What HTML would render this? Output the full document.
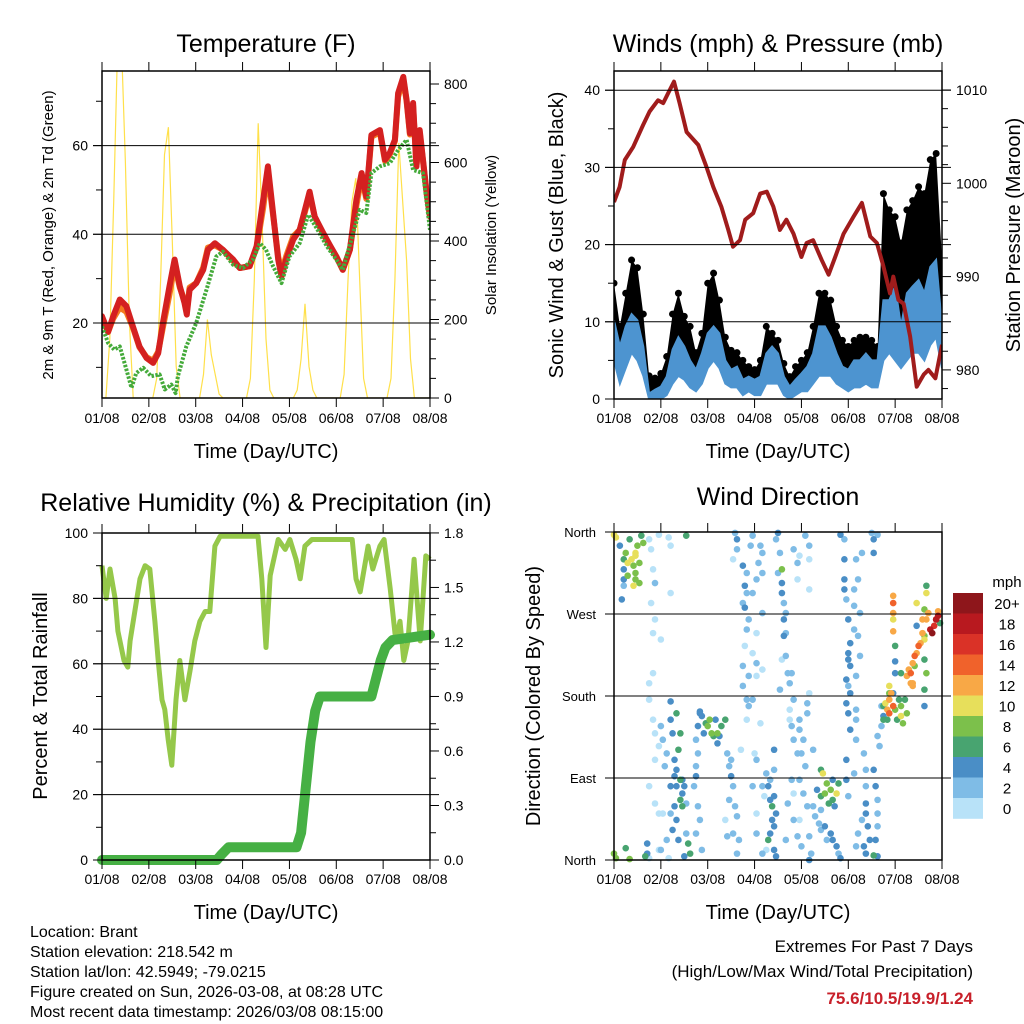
<!DOCTYPE html>
<html><head><meta charset="utf-8"><style>
html,body{margin:0;padding:0;background:#fff;}
svg{display:block;font-family:"Liberation Sans",sans-serif;}
</style></head><body>
<svg id="fig" width="1024" height="1024" viewBox="0 0 1024 1024" xmlns="http://www.w3.org/2000/svg">
<rect x="0" y="0" width="1024" height="1024" fill="#fff"/>
<text x="266" y="52" font-size="25" text-anchor="middle">Temperature (F)</text>
<text x="778" y="52" font-size="25" text-anchor="middle">Winds (mph) &amp; Pressure (mb)</text>
<text x="266" y="511" font-size="25" text-anchor="middle">Relative Humidity (%) &amp; Precipitation (in)</text>
<text x="778" y="505" font-size="25" text-anchor="middle">Wind Direction</text>
<text x="266" y="458" font-size="20" text-anchor="middle">Time (Day/UTC)</text>
<text x="778" y="458" font-size="20" text-anchor="middle">Time (Day/UTC)</text>
<text x="266" y="919" font-size="20" text-anchor="middle">Time (Day/UTC)</text>
<text x="778" y="919" font-size="20" text-anchor="middle">Time (Day/UTC)</text>
<text transform="translate(53,235) rotate(-90)" font-size="15" text-anchor="middle">2m &amp; 9m T (Red, Orange) &amp; 2m Td (Green)</text>
<text transform="translate(496,235) rotate(-90)" font-size="15" text-anchor="middle">Solar Insolation (Yellow)</text>
<text transform="translate(563,235) rotate(-90)" font-size="20" text-anchor="middle">Sonic Wind &amp; Gust (Blue, Black)</text>
<text transform="translate(1020,235) rotate(-90)" font-size="20" text-anchor="middle">Station Pressure (Maroon)</text>
<text transform="translate(47,696) rotate(-90)" font-size="20" text-anchor="middle">Percent &amp; Total Rainfall</text>
<text transform="translate(540,696) rotate(-90)" font-size="20" text-anchor="middle">Direction (Colored By Speed)</text>
<g font-size="16">
<text x="30" y="937">Location: Brant</text>
<text x="30" y="957">Station elevation: 218.542 m</text>
<text x="30" y="977">Station lat/lon: 42.5949; -79.0215</text>
<text x="30" y="997">Figure created on Sun, 2026-03-08, at 08:28 UTC</text>
<text x="30" y="1017">Most recent data timestamp: 2026/03/08 08:15:00</text>
</g>
<text x="973" y="952" font-size="17" text-anchor="end">Extremes For Past 7 Days</text>
<text x="973" y="977" font-size="17" text-anchor="end">(High/Low/Max Wind/Total Precipitation)</text>
<text x="973" y="1004" font-size="17" font-weight="bold" fill="#c8202a" text-anchor="end">75.6/10.5/19.9/1.24</text>
<text x="1007" y="587" font-size="15" text-anchor="middle">mph</text>
</svg>
<script>
// ---------- data ----------
const dayLabels = ["01/08","02/08","03/08","04/08","05/08","06/08","07/08","08/08"];
const tempT = [0,0.13,0.24,0.38,0.52,0.66,0.8,0.95,1.09,1.2,1.3,1.44,1.55,1.66,1.76,1.81,1.87,2.01,2.16,2.26,2.41,2.58,2.8,2.94,3.15,3.3,3.44,3.54,3.62,3.76,3.83,3.93,4.08,4.22,4.33,4.43,4.54,4.72,4.86,5.0,5.14,5.29,5.43,5.54,5.64,5.75,5.93,6.04,6.14,6.25,6.32,6.43,6.5,6.57,6.64,6.71,6.78,6.85,6.93,7.0];
const tempRed = [21.5,18,21.5,25.3,23.8,19.2,14.7,12.1,11,13.2,20,28.3,34.3,28.3,24.5,21.9,27.5,29,32,36.5,38,36.5,34.3,32.4,32.8,37.3,47.8,55.3,47.8,34.3,30.5,34.3,38.8,41,45.5,49.6,44,40.3,37.6,35,32,36.5,47.8,53.8,48.5,62.4,63.5,56.8,58.3,61.3,71.8,75.5,70.3,62.8,69.6,55.3,63.5,56.8,49.3,44];
const tempOrange = [21,18,21,23.5,22.5,19,14.5,12.3,11.5,13.5,19,26.5,33,28,25,22.5,28,29,32.5,37,37.5,36.5,34,32.4,32.8,37,46,54,47,35,31.5,35,39.5,41,45,49,44,40,37.5,35,32,36.5,46.5,53,48,62,63,56.5,58,61,71,75,70,62.5,69,55.3,63,56.5,49,44];
const dewT = [0,0.13,0.26,0.38,0.52,0.63,0.73,0.88,1.05,1.23,1.34,1.48,1.57,1.62,1.8,2.01,2.23,2.44,2.58,2.8,3.01,3.22,3.37,3.5,3.65,3.83,4.0,4.22,4.4,4.58,4.8,5.0,5.14,5.36,5.5,5.64,5.75,5.93,6.14,6.32,6.5,6.64,6.85,7.0];
const dewPt = [19.2,15.5,14,14.7,9.5,5.4,8.7,9.9,8,8.4,5,6.1,4.2,8,14.7,20,27.5,35,36.1,33.1,32.4,34.3,38,36.5,32.8,29,35,38,44.4,41.4,37.3,34.3,32,40.3,45.5,44.8,53.8,55.3,56,59,61.3,54.5,53.8,41];
// solar insolation, every 2 hours from start (W/m2)
const solar = [0,0,150,500,900,900,600,200,0,0,0,0,
 0,0,50,300,620,690,400,80,0,0,0,0,
 0,0,60,200,110,60,10,0,0,0,0,0,
 0,0,50,300,700,450,150,20,0,0,0,0,
 0,0,20,100,240,80,20,0,0,0,0,0,
 0,0,60,300,500,560,300,50,0,0,0,0,
 0,0,50,300,650,500,350,100,0,0,0,0,
 0];
// winds every 3 hours (mph)
const windLo = [5,2,4,6,5,3,0,0,0,0.5,2,3,2.5,1.5,1,2,4,5,4,2,1.5,1.5,0.5,1,0.5,0.5,2,2,2,0.5,0,0.5,1,1,2,3,3,3,2,1.5,1,1.5,1.5,2,1.5,1.5,5,6,5,4,5,6,6,5,7,8,4];
const windHi = [10.2,6.8,9.4,11,10.2,6.8,0.7,1.2,1.6,2.9,6.4,8,6.8,5,3.8,5.9,8.5,9.4,8.5,5,3.8,4.2,2.5,2.9,2.5,2.9,5.9,6.8,5.9,2.9,1.6,2.5,3.3,4.2,5.9,9.4,9.4,8,5.9,4.2,3.8,5,5,5.9,5,5,12.8,12.8,14.6,9.4,13.7,14.6,15.4,13.7,17.1,18,9.4];
const gust = [15,9.4,13.7,18,17,11,3,2.7,3.3,5.5,11,13.7,10.7,9.4,6,8.5,15,16.3,12.8,8,6.3,6,5,4.2,3.8,5,9.4,8.5,7.6,4.6,2.9,4.2,5,6,9.4,13.7,13.7,12.8,9.4,7.6,6.8,7.6,8,8,7.6,6.8,26.6,24.5,23.6,20.2,24.5,25.7,27.5,26.6,31,31.8,18];
const presT = [0,0.12,0.23,0.41,0.62,0.76,0.94,1.05,1.15,1.28,1.4,1.55,1.8,1.97,2.12,2.29,2.44,2.54,2.69,2.8,2.97,3.12,3.26,3.4,3.54,3.68,3.83,4.0,4.11,4.25,4.43,4.58,4.72,4.9,5.11,5.29,5.47,5.61,5.75,5.89,5.96,6.07,6.18,6.32,6.46,6.61,6.71,6.86,7.0];
const pres = [998,999.6,1002.5,1003.9,1006.25,1007.7,1008.9,1008.6,1009.6,1010.9,1008.6,1005.5,1004.1,1001.8,999.6,997.5,995,993.2,993.9,996.1,996.8,998.9,999.1,997.5,995,996.1,994.6,992.1,993.6,993.9,991.8,990.2,992.1,994.6,996.4,997.9,994.3,993.6,991.1,988.2,990,987.5,987.1,983.6,978.2,979.5,980,979.1,982.7];
const rhT = [0,0.09,0.17,0.28,0.34,0.47,0.55,0.6,0.7,0.81,0.92,1.02,1.13,1.2,1.28,1.34,1.41,1.49,1.58,1.66,1.77,1.88,1.98,2.09,2.2,2.3,2.41,2.52,2.94,3.33,3.41,3.5,3.59,3.76,3.91,4.01,4.14,4.23,4.33,4.48,4.87,5.34,5.42,5.51,5.68,5.78,5.93,6.02,6.15,6.27,6.36,6.44,6.53,6.66,6.79,6.91,7.0];
const rh = [90,80,89,80,70,61,59,67,76,86,90,89,73,61,49,46,37,29,49,61,49,58,67,73,76,76,96,99,99,99,86,65,87,98,95,98,92,86,96,98,98,98,86,82,96,89,96,98,83,67,73,61,67,92,67,93,92];
const precipT = [0,2.45,2.55,2.7,4.15,4.25,4.35,4.45,4.55,4.65,5.75,5.85,5.95,6.05,6.2,7.0];
const precip = [0,0,0.03,0.07,0.07,0.15,0.4,0.65,0.82,0.9,0.9,1.0,1.1,1.17,1.21,1.24];
// wind direction observations: hours since start, degrees, speed (mph)
const dirHour = [0,1,3,5,5,5,4,6,7,9,10,11,11,11,12,13,14,15,10,11,8,7,5,13,0,1,6,8,
 18,19,20,21,19,21,20,24,20,18,18,20,21,23,21,18,21,23,23,17,16,17,18,28,29,23,29,
 24,25,27,26,29,29,30,32,34,33,31,32,34,32,35,34,35,31,32,30,33,37,38,39,36,29,25,27,24,28,37,35,36,37,29,31,
 44,43,42,43,42,42,41,43,44,42,45,
 45,47,48,50,52,53,53,55,57,49,51,46,54,44,
 58,59,60,61,59,62,63,61,64,63,57,58,65,60,
 62,63,63,61,66,68,67,68,66,69,68,67,66,69,66,68,71,69,68,71,67,70,
 71,75,76,74,73,76,76,73,71,73,76,73,75,72,73,71,73,73,76,78,
 79,80,81,81,80,79,82,83,82,83,82,82,82,80,78,76,77,
 84,83,85,84,86,86,86,87,88,87,87,88,86,88,89,91,90,85,92,
 90,90,91,92,94,95,95,97,96,98,95,97,99,95,94,96,100,92,94,95,98,100,100,100,94,91,92,89,92,88,99,99,100,102,
 106,107,109,111,112,106,108,110,114,115,104,112,113,106,102,103,105,108,111,112,114,115,116,109,106,100,101,
 116,118,118,118,118,119,123,123,120,123,121,120,120,121,124,119,120,121,119,120,124,121,124,124,119,120,125,124,127,126,125,126,119,123,
 128,129,129,129,129,130,131,128,129,133,134,135,135,135,134,135,133,132,133,133,135,136,135,137,138,137,124,125,127,
 138,139,140,141,141,142,141,143,144,146,147,147,148,149,150,145,143,144,147,150,151,152,153,153,154,155,156,157,158,159,159,159,160,159,159,162,163,164,165,165,166,167,160,161,158,155,154,143,143,143,143,143,144,144,155,160,160,159,166,153,152,141,140,138];
const dirDeg = [357,354,345,319,308,301,286,337,326,330,323,337,334,315,345,326,356,348,301,308,352,312,330,304,7,2,13,1,
 352,341,319,304,282,264,249,242,205,194,176,154,139,125,110,81,62,51,11,18,4,7,2,354,345,357,293,
 147,132,117,103,174,154,139,161,139,121,110,99,88,81,73,66,59,59,44,33,22,29,18,7,4,51,51,22,11,2,356,88,81,62,81,92,
 161,147,132,117,103,92,81,59,44,29,11,
 158,150,147,139,154,139,128,147,154,154,136,139,136,163,
 117,103,92,81,66,59,48,29,22,7,44,26,121,110,
 359,352,341,330,323,315,301,293,282,264,253,235,213,202,191,176,176,169,154,293,277,345,
 356,345,337,326,308,315,271,249,227,216,209,202,150,117,110,81,51,29,7,11,
 81,66,59,44,29,22,11,4,70,51,37,121,99,88,95,81,70,
 359,352,337,315,319,304,293,282,271,264,246,249,220,224,205,205,194,187,176,
 165,154,147,132,117,154,143,132,117,103,88,73,59,44,26,15,0,341,326,334,356,345,330,297,308,88,73,62,44,22,172,161,183,121,
 99,95,84,77,66,70,73,62,73,84,77,88,59,55,59,48,40,37,29,22,15,7,2,22,33,26,7,
 357,352,330,308,297,286,297,279,264,253,238,227,220,213,202,198,191,183,172,161,165,143,154,132,88,70,308,330,337,271,246,224,110,95,
 117,99,81,62,51,37,22,15,7,99,81,66,51,37,22,4,5,359,352,337,357,125,136,147,158,169,15,29,44,
 169,172,165,161,176,183,191,169,165,176,169,158,150,176,161,154,183,205,205,202,209,205,194,216,224,227,235,238,249,242,246,220,205,187,169,253,249,257,264,264,268,260,264,271,264,257,213,290,282,271,264,251,235,218,282,301,293,275,273,191,194,183,154,154];
const dirSpd = [10,10,4,4,4,2,4,8,10,10,8,10,10,8,8,8,6,8,10,8,6,8,6,8,8,8,6,8,
 0,0,0,2,0,0,0,0,0,0,0,0,0,0,0,0,0,0,0,4,6,4,0,0,0,0,0,
 2,2,2,2,4,4,4,6,6,6,4,4,6,4,4,6,6,4,4,4,4,2,6,6,4,2,0,2,2,0,6,4,4,2,4,4,
 4,4,2,2,2,4,2,2,2,2,2,
 4,6,8,8,4,8,4,6,6,8,6,4,4,4,
 2,2,4,2,2,2,2,2,2,2,0,2,0,2,
 2,4,2,0,4,2,4,2,2,2,2,0,2,2,2,2,2,2,0,2,4,2,
 2,2,2,2,2,2,2,0,0,2,0,0,0,0,2,2,0,2,2,0,
 4,4,6,4,4,6,4,4,4,4,4,4,2,2,2,2,0,
 4,2,2,2,8,4,4,2,2,4,4,2,0,2,2,2,2,2,2,
 0,0,2,2,2,2,2,2,2,2,2,2,2,0,2,2,4,2,2,0,2,2,0,0,0,2,0,2,2,2,2,2,0,2,
 6,10,8,8,6,6,8,6,10,6,4,4,4,2,2,2,2,4,4,4,4,2,4,2,2,2,2,
 4,2,4,4,4,2,2,2,4,2,4,4,4,4,2,4,2,4,4,4,2,4,2,2,4,2,2,2,2,2,2,2,4,2,
 2,2,2,4,4,4,4,4,4,4,4,2,2,2,4,4,6,2,4,4,2,2,2,2,4,2,2,2,2,
 6,10,12,14,12,12,10,14,8,6,8,10,8,6,8,6,4,4,6,12,12,14,12,12,14,12,14,12,12,10,8,6,8,6,4,18,20,16,18,16,18,6,12,12,12,4,8,12,14,12,10,12,6,4,10,6,10,8,12,12,12,8,6,6];
const cbarLabels = ["20+","18","16","14","12","10","8","6","4","2","0"];
const cbarColors = ["#8e161b","#b8191f","#da3227","#f0622b","#f8a846","#e7df5b","#7cc04b","#48a470","#4a8ec6","#7fbce6","#b8e2f8"];
const windColors = ["#b8e2f8","#7fbce6","#4a8ec6","#48a470","#7cc04b","#e7df5b","#f8a846","#f0622b","#da3227","#b8191f","#8e161b"];

// ---------- helpers ----------
const NS = "http://www.w3.org/2000/svg";
const svg = document.getElementById("fig");
function mk(tag, attrs, parent) {
  const e = document.createElementNS(NS, tag);
  for (const k in attrs) e.setAttribute(k, attrs[k]);
  (parent || svg).appendChild(e);
  return e;
}
function pathFrom(xs, ys) {
  let d = "";
  for (let i = 0; i < xs.length; i++) d += (i ? "L" : "M") + xs[i].toFixed(1) + " " + ys[i].toFixed(1);
  return d;
}
function makeClip(id, P) {
  const cp = mk("clipPath", {id: id});
  mk("rect", {x: P.x0, y: P.y0, width: P.x1 - P.x0, height: P.y1 - P.y0}, cp);
}
function xAxis(P, pname, labelY) {
  const g = mk("g", {});
  
  
  for (let i = 0; i < dayLabels.length; i++) {
    const x = P.x0 + i * (P.x1 - P.x0) / 7;
    mk("line", {x1: x, y1: P.y1, x2: x, y2: P.y1 + 9, stroke: "#000", "stroke-width": 1}, g);
    mk("line", {x1: x, y1: P.y0, x2: x, y2: P.y0 - 9, stroke: "#000", "stroke-width": 1}, g);
    const t = mk("text", {x: x, y: labelY, "font-size": 14, "text-anchor": "middle"}, g);
    t.textContent = dayLabels[i];
    
    
  }
}
function frame(P, pname) {
  const r = mk("rect", {x: P.x0, y: P.y0, width: P.x1 - P.x0, height: P.y1 - P.y0, fill: "none", stroke: "#000", "stroke-width": 1.5});
  
  
}
function yTicks(P, side, vals, yf, fmt, major, gridVals, pname) {
  const g = mk("g", {});
  
  
  for (const v of vals) {
    const y = yf(v);
    if (y < P.y0 - 0.5 || y > P.y1 + 0.5) continue;
    const isMaj = major(v);
    const len = isMaj ? 9 : 6;
    if (side === "left") mk("line", {x1: P.x0 - len, y1: y, x2: P.x0, y2: y, stroke: "#000", "stroke-width": 1}, g);
    else mk("line", {x1: P.x1, y1: y, x2: P.x1 + len, y2: y, stroke: "#000", "stroke-width": 1}, g);
    if (isMaj) {
      const t = mk("text", side === "left" ? {x: P.x0 - 14, y: y + 5, "font-size": 14, "text-anchor": "end"} : {x: P.x1 + 14, y: y + 5, "font-size": 14, "text-anchor": "start"}, g);
      t.textContent = fmt(v);
      
      
    }
  }
  for (const v of gridVals) {
    const y = yf(v);
    const gl = mk("line", {x1: P.x0 - 9, y1: y, x2: P.x1 + 9, y2: y, stroke: "#000", "stroke-width": 1});
    
    
  }
}

// ---------- panel 1: temperature ----------
const P1 = {x0: 102, x1: 430, y0: 71, y1: 398};
const x1s = t => P1.x0 + t * (P1.x1 - P1.x0) / 7;
const yT = v => 323 - (v - 20) * 4.435;
const yS = v => P1.y1 - v * 0.3925;
makeClip("c1", P1);
const g1 = mk("g", {"clip-path": "url(#c1)"});


const solX = solar.map((v, i) => x1s(i * 2 / 24));
const solLine = mk("path", {d: pathFrom(solX, solar.map(yS)), fill: "none", stroke: "#ffe04a", "stroke-width": 1.2}, g1);


const orLine = mk("path", {d: pathFrom(tempT.map(x1s), tempOrange.map(yT)), fill: "none", stroke: "#f47a20", "stroke-width": 6, "stroke-linejoin": "round", "stroke-linecap": "round"}, g1);


const redLine = mk("path", {d: pathFrom(tempT.map(x1s), tempRed.map(yT)), fill: "none", stroke: "#d42020", "stroke-width": 6, "stroke-linejoin": "round", "stroke-linecap": "round"}, g1);


const dewLine = mk("path", {d: pathFrom(dewT.map(x1s), dewPt.map(yT)), fill: "none", stroke: "#44aa3a", "stroke-width": 4, "stroke-dasharray": "2.5 1.5", "stroke-linejoin": "round"}, g1);


yTicks(P1, "left", [10,20,30,40,50,60,70], yT, v => String(v), v => v % 20 === 0, [20,40,60], 'temp');
const solTicks = []; for (let v = 0; v <= 800; v += 50) solTicks.push(v);
yTicks(P1, "right", solTicks, yS, v => String(v), v => v % 200 === 0, [], 'solar');
frame(P1, 'temp');
xAxis(P1, 'temp', 423);

// ---------- panel 2: winds & pressure ----------
const P2 = {x0: 614, x1: 942, y0: 71, y1: 399};
const x2s = t => P2.x0 + t * (P2.x1 - P2.x0) / 7;
const yW = v => P2.y1 - v * 7.72;
const yP = v => 90 + (1010 - v) * 9.33;
makeClip("c2", P2);
const g2 = mk("g", {"clip-path": "url(#c2)"});


const wt = windHi.map((v, i) => x2s(i * 3 / 24));
const gustArea = mk("path", {d: pathFrom(wt, gust.map(yW)) + pathFrom(wt.slice().reverse(), windHi.slice().reverse().map(yW)).replace("M", "L") + "Z", fill: "#000"}, g2);


for (let i = 0; i < gust.length; i++) {
  const c = mk("circle", {cx: wt[i], cy: yW(gust[i]), r: 3.5, fill: "#000"}, g2);
  
  
}
const windArea = mk("path", {d: pathFrom(wt, windHi.map(yW)) + pathFrom(wt.slice().reverse(), windLo.slice().reverse().map(yW)).replace("M", "L") + "Z", fill: "#4d94d0", stroke: "#4d94d0", "stroke-width": 2}, g2);


const presLine = mk("path", {d: pathFrom(presT.map(x2s), pres.map(yP)), fill: "none", stroke: "#a01c1c", "stroke-width": 4, "stroke-linejoin": "round"}, g2);


yTicks(P2, "left", [0,5,10,15,20,25,30,35,40], yW, v => String(v), v => v % 10 === 0, [10,20,30,40], 'wind');
const pTicks = []; for (let v = 978; v <= 1010; v += 2) pTicks.push(v);
yTicks(P2, "right", pTicks, yP, v => String(v), v => v % 10 === 0, [], 'pressure');
frame(P2, 'winds');
xAxis(P2, 'winds', 423);

// ---------- panel 3: RH & precip ----------
const P3 = {x0: 102, x1: 430, y0: 533, y1: 860};
const x3s = t => P3.x0 + t * (P3.x1 - P3.x0) / 7;
const yRH = v => P3.y1 - v * 3.27;
const yPr = v => P3.y1 - v * 181.7;
makeClip("c3", {x0: 96, x1: 436, y0: 527, y1: 866});
const g3 = mk("g", {"clip-path": "url(#c3)"});


const rhLine = mk("path", {d: pathFrom(rhT.map(x3s), rh.map(yRH)), fill: "none", stroke: "#95c84a", "stroke-width": 5, "stroke-linejoin": "round"}, g3);


const prLine = mk("path", {d: pathFrom(precipT.map(x3s), precip.map(yPr)), fill: "none", stroke: "#46b044", "stroke-width": 10, "stroke-linejoin": "round", "stroke-linecap": "round"}, g3);


yTicks(P3, "left", [0,10,20,30,40,50,60,70,80,90,100], yRH, v => String(v), v => v % 20 === 0, [20,40,60,80], 'humidity');
yTicks(P3, "right", [0,0.15,0.3,0.45,0.6,0.75,0.9,1.05,1.2,1.35,1.5,1.65,1.8], yPr, v => v.toFixed(1), v => Math.round(v * 100) % 30 === 0, [], 'precip');
frame(P3, 'humidity');
xAxis(P3, 'humidity', 884);

// ---------- panel 4: wind direction ----------
const P4 = {x0: 614, x1: 942, y0: 532, y1: 860};
const x4s = h => P4.x0 + h * (P4.x1 - P4.x0) / 168;
const yD = d => P4.y1 - d * (P4.y1 - P4.y0) / 360;
makeClip("c4", {x0: 610, x1: 946, y0: 528, y1: 864});
const g4 = mk("g", {"clip-path": "url(#c4)"});


const order = dirSpd.map((s, i) => i).sort((a, b) => dirSpd[a] - dirSpd[b]);
for (const i of order) {
  const ci = Math.min(10, Math.floor(dirSpd[i] / 2));
  const c = mk("circle", {cx: x4s(dirHour[i]), cy: yD(dirDeg[i]), r: 3.3, fill: windColors[ci]}, g4);
  
  
}
const dirNames = ["North","East","South","West","North"];
const gd = mk("g", {});


for (let i = 0; i < 5; i++) {
  const y = yD(i * 90);
  mk("line", {x1: P4.x0 - 9, y1: y, x2: P4.x0, y2: y, stroke: "#000", "stroke-width": 1}, gd);
  const t = mk("text", {x: P4.x0 - 18, y: y + 5, "font-size": 13, "text-anchor": "end"}, gd);
  t.textContent = dirNames[i];
  
  
  if (i > 0 && i < 4) {
    const gl = mk("line", {x1: P4.x0 - 9, y1: y, x2: 951, y2: y, stroke: "#000", "stroke-width": 1});
    
    
  }
}
frame(P4, 'direction');
xAxis(P4, 'direction', 884);
// colorbar
const cb = mk("g", {});


for (let i = 0; i < cbarLabels.length; i++) {
  const y = 593 + i * 20.5;
  const r = mk("rect", {x: 953, y: y, width: 30, height: 20.8, fill: cbarColors[i]}, cb);
  
  
  const t = mk("text", {x: 1007, y: y + 16, "font-size": 15, "text-anchor": "middle"}, cb);
  t.textContent = cbarLabels[i];
  
  
}
</script>
</body></html>
